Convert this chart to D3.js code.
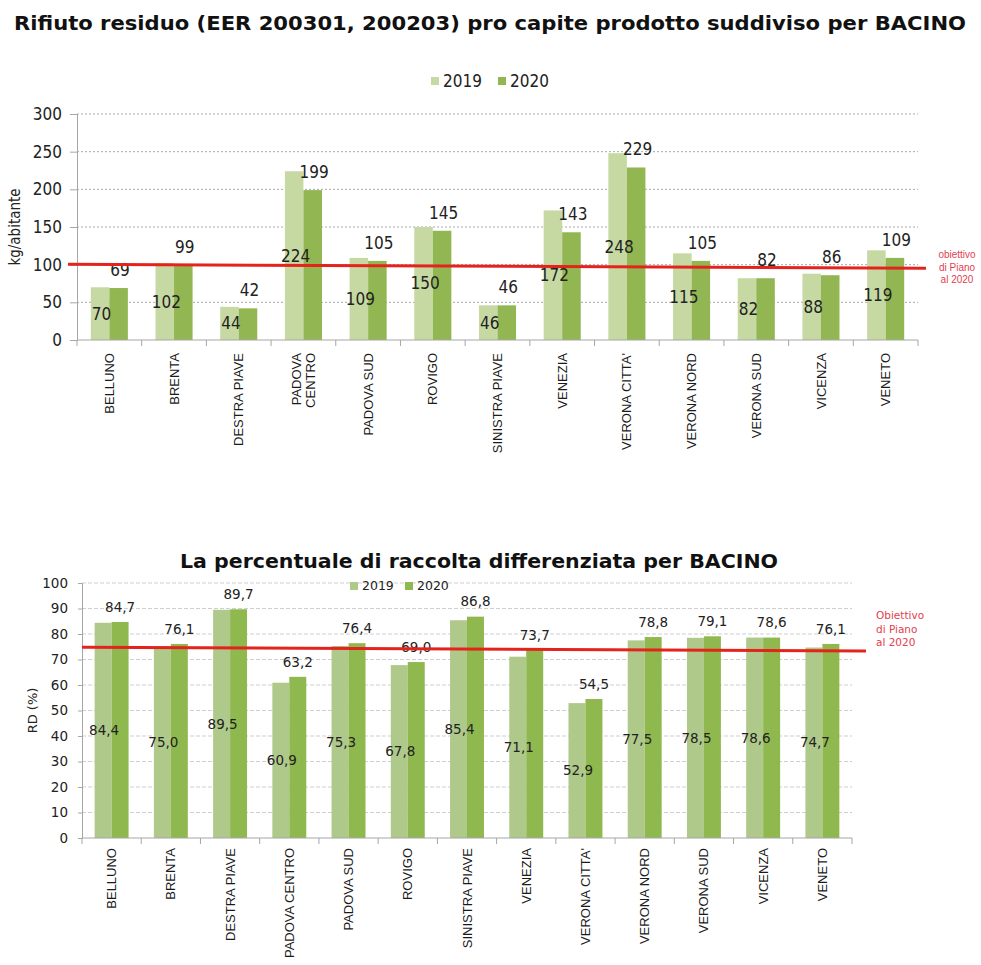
<!DOCTYPE html>
<html><head><meta charset="utf-8">
<script src="https://cdn.jsdelivr.net/npm/d3@7"></script>
<style>
html,body{margin:0;padding:0;background:#fff;}
svg{display:block;}
</style></head>
<body>
<svg id="chart" width="981" height="965"></svg>
<script>
// ---------- DATA ----------
const bacini = ["BELLUNO","BRENTA","DESTRA PIAVE","PADOVA CENTRO","PADOVA SUD","ROVIGO","SINISTRA PIAVE","VENEZIA","VERONA CITTA'","VERONA NORD","VERONA SUD","VICENZA","VENETO"];
const seriesNames = ["2019","2020"];
// Top chart: kg/abitante
const residuo2019 = [70,102,44,224,109,150,46,172,248,115,82,88,119];
const residuo2020 = [69,99,42,199,105,145,46,143,229,105,82,86,109];
const residuoTarget = [100.5,95.2];   // red line (left end, right end)
const residuoTicks = [0,50,100,150,200,250,300];
// Bottom chart: RD (%)
const rd2019 = [84.4,75.0,89.5,60.9,75.3,67.8,85.4,71.1,52.9,77.5,78.5,78.6,74.7];
const rd2020 = [84.7,76.1,89.7,63.2,76.4,69.0,86.8,73.7,54.5,78.8,79.1,78.6,76.1];
const rdTarget = [74.8,73.3];
const rdTicks = [0,10,20,30,40,50,60,70,80,90,100];

const svg = d3.select("#chart");
const itFmt = d3.formatLocale({decimal:",",thousands:".",grouping:[3],currency:["€",""]});
const fmt1 = itFmt.format(".1f");

function drawChart(cfg){
  const g = svg.append("g");
  const x = d3.scaleBand().domain(bacini).range([cfg.left,cfg.right]).padding(0);
  const groupW = x.bandwidth()*0.573;
  const xs = d3.scaleBand().domain(seriesNames).range([0,groupW]).padding(0);
  const y = d3.scaleLinear().domain([0,cfg.max]).range([cfg.bottom,cfg.top]);

  // gridlines
  g.append("g").selectAll("line").data(cfg.ticks.filter(t=>t>0)).join("line")
    .attr("x1",cfg.left).attr("x2",cfg.right)
    .attr("y1",d=>y(d)).attr("y2",d=>y(d))
    .attr("stroke",cfg.gridColor).attr("stroke-width",1)
    .attr("stroke-dasharray",cfg.gridDash);

  // y axis
  const ya = g.append("g").attr("transform",`translate(${cfg.left},0)`)
    .call(d3.axisLeft(y).tickValues(cfg.ticks).tickSize(cfg.yTickSize).tickPadding(cfg.yTickPad).tickFormat(d3.format("d")));
  ya.select(".domain").attr("stroke","#a6a6a6");
  ya.selectAll(".tick line").attr("stroke","#a6a6a6");
  ya.selectAll("text").attr("font-family",cfg.font).attr("font-size",cfg.tickFs).attr("fill","#222");

  // bars
  const data = bacini.map((b,i)=>({b, vals:[cfg.s1[i],cfg.s2[i]]}));
  const groups = g.append("g").selectAll("g").data(data).join("g")
    .attr("transform",d=>`translate(${x(d.b)+(x.bandwidth()-groupW)/2},0)`);
  groups.selectAll("rect").data(d=>d.vals.map((v,k)=>({v,k}))).join("rect")
    .attr("x",d=>xs(seriesNames[d.k])).attr("width",xs.bandwidth())
    .attr("y",d=>y(d.v)).attr("height",d=>cfg.bottom-y(d.v))
    .attr("fill",d=>cfg.colors[d.k]);

  // x axis line + boundary ticks
  g.append("line").attr("x1",cfg.left).attr("x2",cfg.right)
    .attr("y1",cfg.bottom).attr("y2",cfg.bottom).attr("stroke","#a6a6a6");
  const bounds = bacini.map(b=>x(b)).concat([cfg.right]);
  g.append("g").selectAll("line").data(bounds).join("line")
    .attr("x1",d=>d).attr("x2",d=>d).attr("y1",cfg.bottom).attr("y2",cfg.bottom+6)
    .attr("stroke","#a6a6a6");

  // red target line
  g.append("line")
    .attr("x1",cfg.left-cfg.lineExtL).attr("x2",cfg.right+cfg.lineExtR)
    .attr("y1",y(cfg.target[0])).attr("y2",y(cfg.target[1]))
    .attr("stroke","#e5231d").attr("stroke-width",3);

  // data labels
  groups.each(function(d){
    const gg = d3.select(this);
    const bx = xs.bandwidth();
    gg.append("text")
      .attr("x",xs("2019")+bx/2+cfg.lab1dx).attr("y",(y(d.vals[0])+cfg.bottom)/2)
      .attr("dy","0.35em").attr("text-anchor","middle")
      .attr("font-family",cfg.font).attr("font-size",cfg.labFs).attr("fill","#222")
      .text(cfg.fmt(d.vals[0]));
    gg.append("text")
      .attr("x",xs("2020")+bx/2+cfg.lab2dx).attr("y",y(d.vals[1])-cfg.lab2off)
      .attr("dy","0.35em").attr("text-anchor","middle")
      .attr("font-family",cfg.font).attr("font-size",cfg.labFs).attr("fill","#222")
      .text(cfg.fmt(d.vals[1]));
  });

  // category labels (rotated)
  const cl = g.append("g").selectAll("text").data(bacini).join("text")
    .attr("transform",d=>`translate(${x(d)+x.bandwidth()/2},${cfg.bottom+cfg.catOff}) rotate(-90)`)
    .attr("text-anchor","end")
    .attr("font-family","Liberation Sans, Arial, sans-serif").attr("font-size",cfg.catFs).attr("fill","#1a1a1a");
  cl.each(function(d){
    const t = d3.select(this);
    const lines = cfg.splitLabels && d==="PADOVA CENTRO" ? ["PADOVA","CENTRO"] : [d];
    const n = lines.length;
    lines.forEach((ln,i)=>{
      t.append("tspan").attr("x",0).attr("dy", i===0 ? `${0.35-(n-1)*0.52}em` : "1.04em").text(ln);
    });
  });

  // y title
  g.append("text")
    .attr("transform",`translate(${cfg.yTitleX},${(cfg.top+cfg.bottom)/2+cfg.yTitleDy}) rotate(-90)`)
    .attr("text-anchor","middle").attr("dy","0.35em")
    .attr("font-family",cfg.font).attr("font-size",cfg.yTitleFs).attr("fill","#222")
    .text(cfg.yTitle);

  // legend
  const lg = g.append("g").attr("transform",`translate(${cfg.legX},${cfg.legY})`);
  seriesNames.forEach((s,k)=>{
    const lx = k*cfg.legStep;
    lg.append("rect").attr("x",lx).attr("y",-4).attr("width",8).attr("height",8).attr("fill",cfg.colors[k]);
    lg.append("text").attr("x",lx+12).attr("y",0).attr("dy","0.35em")
      .attr("font-family",cfg.font).attr("font-size",cfg.legFs).attr("fill","#222").text(s);
  });

  // annotation
  const an = g.append("text").attr("font-family",cfg.annFont).attr("font-size",cfg.annFs)
    .attr("fill","#e2414f").attr("text-anchor",cfg.annAnchor);
  cfg.annLines.forEach((ln,i)=>{
    an.append("tspan").attr("x",cfg.annX).attr("y",cfg.annY+i*cfg.annStep).text(ln);
  });
}

// Top title
svg.append("text").attr("x",490).attr("y",30).attr("text-anchor","middle")
  .attr("font-family","DejaVu Sans, Verdana, sans-serif").attr("font-weight","bold").attr("font-size",19.5)
  .attr("textLength",952).attr("lengthAdjust","spacingAndGlyphs")
  .attr("fill","#111")
  .text("Rifiuto residuo (EER 200301, 200203) pro capite prodotto suddiviso per BACINO");

drawChart({
  left:77,right:918,top:114,bottom:340,max:300,ticks:residuoTicks,
  s1:residuo2019,s2:residuo2020,target:residuoTarget,
  colors:["#c6d9a2","#92b752"],
  gridColor:"#a9a9a9",gridDash:"2,2",
  font:"DejaVu Sans Condensed, DejaVu Sans, sans-serif",
  tickFs:17,labFs:17,yTickSize:7,yTickPad:8,
  fmt:d3.format("d"),lab1dx:1.5,lab2dx:1.5,lab2off:18,
  catOff:13,catFs:13,splitLabels:true,
  yTitle:"kg/abitante",yTitleX:15,yTitleDy:0,yTitleFs:15,
  legX:431,legY:81,legStep:67,legFs:17,
  lineExtL:9,lineExtR:8,
  annFont:"Liberation Sans, Arial, sans-serif",annFs:10,annAnchor:"middle",
  annLines:["obiettivo","di Piano","al 2020"],annX:957,annY:258,annStep:12.5
});

// Bottom title
svg.append("text").attr("x",479).attr("y",568).attr("text-anchor","middle")
  .attr("font-family","DejaVu Sans, Verdana, sans-serif").attr("font-weight","bold").attr("font-size",20)
  .attr("textLength",598).attr("lengthAdjust","spacingAndGlyphs")
  .attr("fill","#111")
  .text("La percentuale di raccolta differenziata per BACINO");

drawChart({
  left:82,right:852,top:583,bottom:838,max:100,ticks:rdTicks,
  s1:rd2019,s2:rd2020,target:rdTarget,
  colors:["#afc98a","#8fb84f"],
  gridColor:"#cfcfcf",gridDash:"4,2",
  font:"DejaVu Sans, Verdana, sans-serif",
  tickFs:13.5,labFs:13.5,yTickSize:4,yTickPad:10,
  fmt:fmt1,lab1dx:1,lab2dx:0,lab2off:15,
  catOff:10,catFs:13,splitLabels:false,
  yTitle:"RD (%)",yTitleX:32,yTitleDy:0,yTitleFs:13,
  legX:350,legY:586,legStep:55,legFs:12.5,
  lineExtL:0,lineExtR:14,
  annFont:"DejaVu Sans, Verdana, sans-serif",annFs:10.5,annAnchor:"start",
  annLines:["Obiettivo","di Piano","al 2020"],annX:876,annY:619,annStep:13.5
});
</script>
</body></html>
